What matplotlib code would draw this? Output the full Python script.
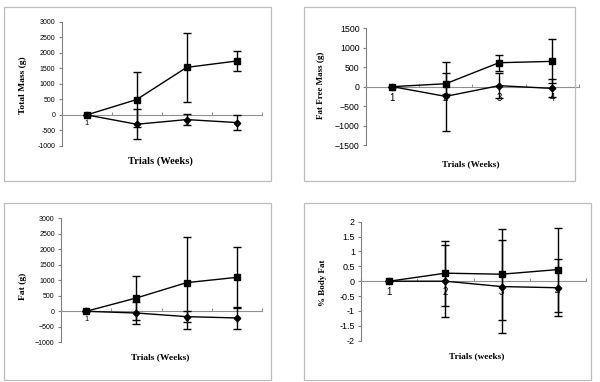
import matplotlib.pyplot as plt
import matplotlib.patches as mpatches
import numpy as np

# data (week 1..4), squares and diamonds with +/- error
weeks = ['1', '2', '3', '4']
weeks_left = ['1', '', '3', '']

tm_sq = [0, 495, 1530, 1735]
tm_sq_err = [0, 890, 1110, 320]
tm_di = [0, -300, -150, -245]
tm_di_err = [0, 490, 180, 245]

ffm_sq = [0, 75, 615, 650]
ffm_sq_err = [0, 275, 208, 566]
ffm_di = [0, -250, 25, -45]
ffm_di_err = [0, 883, 320, 230]

fat_sq = [0, 430, 925, 1095]
fat_sq_err = [0, 720, 1480, 990]
fat_di = [0, -55, -172, -215]
fat_di_err = [0, 350, 172, 355]

bf_sq = [0, 0.27, 0.235, 0.39]
bf_sq_err = [0, 1.09, 1.53, 1.41]
bf_di = [0, 0.0, -0.18, -0.22]
bf_di_err = [0, 1.2, 1.55, 0.96]

W, H = 600, 382
fig = plt.figure(figsize=(6, 3.82), dpi=100)
fig.patch.set_facecolor('white')


def px_axes(x0, x1, ytop, ybot):
    return fig.add_axes([x0 / W, 1 - ybot / H, (x1 - x0) / W, (ybot - ytop) / H])


def frame(x0, y0, x1, y1):
    r = mpatches.Rectangle((x0 / W, 1 - y1 / H), (x1 - x0) / W, (y1 - y0) / H,
                           transform=fig.transFigure, fill=False,
                           edgecolor='#bdbdbd', linewidth=0.9)
    fig.patches.append(r)


def panel(ax, sq, sq_err, di, di_err, ylim, step, labels, fs, xfs, xpad):
    x = np.arange(len(sq)) + 0.5
    ax.errorbar(x, sq, yerr=sq_err, color='black', marker='s', markersize=4.6,
                linewidth=1.0, elinewidth=1.0, capsize=2.6, capthick=1.0, zorder=3)
    ax.errorbar(x, di, yerr=di_err, color='black', marker='D', markersize=3.3,
                linewidth=1.0, elinewidth=1.0, capsize=2.6, capthick=1.0, zorder=3)
    ax.set_xlim(0, 4)
    ax.set_ylim(*ylim)
    for s in ['top', 'right']:
        ax.spines[s].set_visible(False)
    ax.spines['left'].set_color('#808080')
    ax.spines['left'].set_linewidth(0.8)
    ax.spines['bottom'].set_position(('data', 0))
    ax.spines['bottom'].set_color('#909090')
    ax.spines['bottom'].set_linewidth(0.8)
    ax.set_yticks(np.arange(ylim[0], ylim[1] + step / 2, step))
    ax.set_xticks([0, 1, 2, 3, 4])
    ax.set_xticklabels([])
    ax.set_xticks(x, minor=True)
    ax.set_xticklabels(labels, minor=True)
    ax.tick_params(axis='x', which='major', direction='in', length=2, color='#909090')
    ax.tick_params(axis='x', which='minor', length=0, pad=xpad, labelsize=xfs)
    ax.tick_params(axis='y', direction='out', length=2.5, color='#808080',
                   labelsize=fs, pad=2)
    for t in ax.get_xticklabels(minor=True) + ax.get_yticklabels():
        t.set_fontfamily('Liberation Sans')
    ax.patch.set_alpha(0)


lab = dict(family='Liberation Serif', fontweight='bold', ha='center', va='center')

# top left
frame(4, 7, 271, 181)
ax1 = px_axes(61.7, 261.7, 21.7, 146)
panel(ax1, tm_sq, tm_sq_err, tm_di, tm_di_err, (-1000, 3000), 500, weeks_left, 5, 5.5, 3.5)
ax1.set_yticklabels(['-1000', '-500', '0', '500', '1000', '1500', '2000', '2500', '3000'])
fig.text(23 / W, 1 - 85 / H, 'Total Mass (g)', rotation=90, fontsize=6.8, **lab)
fig.text(160 / W, 1 - 161.5 / H, 'Trials (Weeks)', fontsize=7.6, **lab)

# top right
frame(304, 7, 575, 181)
ax2 = px_axes(365.7, 578.9, 28.3, 145)
panel(ax2, ffm_sq, ffm_sq_err, ffm_di, ffm_di_err, (-1500, 1500), 500, weeks, 6.3, 7, 4.5)
fig.text(320.7 / W, 1 - 85 / H, 'Fat Free Mass (g)', rotation=90, fontsize=6.5, **lab)
fig.text(470.7 / W, 1 - 164 / H, 'Trials (Weeks)', fontsize=6.7, **lab)

# bottom left
frame(4, 202.7, 271, 380)
ax3 = px_axes(61, 262, 218.3, 342.3)
panel(ax3, fat_sq, fat_sq_err, fat_di, fat_di_err, (-1000, 3000), 500, weeks_left, 5, 5.5, 3.5)
fig.text(22.7 / W, 1 - 286 / H, 'Fat (g)', rotation=90, fontsize=6.8, **lab)
fig.text(160 / W, 1 - 356.7 / H, 'Trials (Weeks)', fontsize=6.8, **lab)

# bottom right
frame(304, 202.7, 590.7, 380)
ax4 = px_axes(361.3, 585.7, 221.7, 340.7)
panel(ax4, bf_sq, bf_sq_err, bf_di, bf_di_err, (-2, 2), 0.5, weeks, 6.5, 7, 4.5)
ax4.set_yticklabels(['-2', '-1.5', '-1', '-0.5', '0', '0.5', '1', '1.5', '2'])
fig.text(323 / W, 1 - 282.7 / H, '% Body Fat', rotation=90, fontsize=6.5, **lab)
fig.text(477 / W, 1 - 356 / H, 'Trials (weeks)', fontsize=6.7, **lab)

plt.savefig('out.png', dpi=100)
